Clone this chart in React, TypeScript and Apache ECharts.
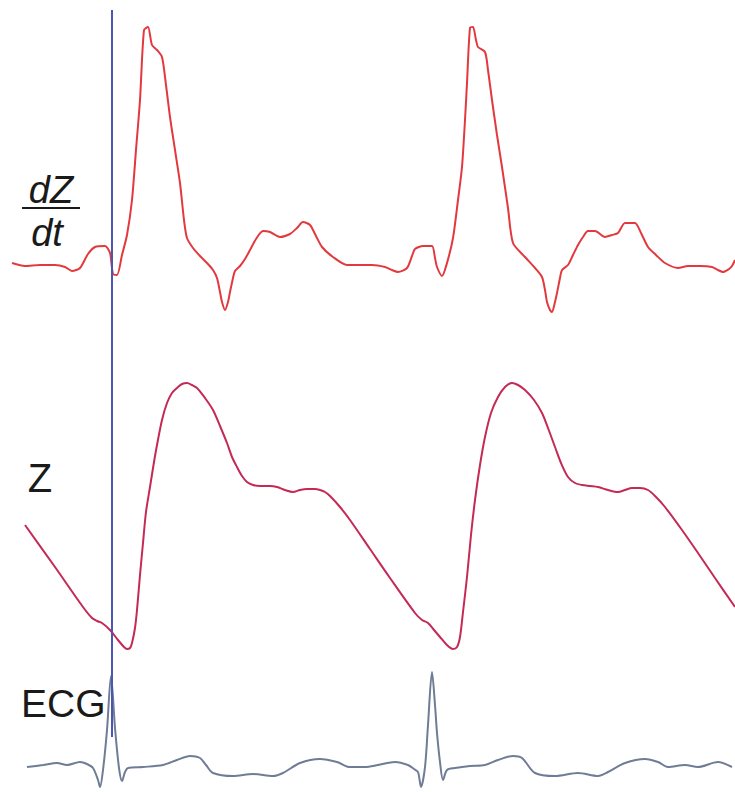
import React, { useEffect, useRef } from "react";
import * as echarts from "echarts";

// Signal traces, in picture coordinates (x: time position, y: vertical position, 0 at top)
const dzdtPoints: [number, number][] = [
  [12, 263], [25, 266], [40, 265], [55, 265], [65, 267], [72, 271], [80, 268], [88, 254], [95, 247], [105, 246],
  [110, 253], [113, 274], [117, 275], [122, 255], [127, 235], [132, 200], [136, 150], [140, 100], [144, 30], [148, 27],
  [152, 45], [157, 50], [162, 57], [166, 85], [170, 117], [175, 150], [180, 183], [184, 220], [187, 238], [193, 248],
  [200, 256], [207, 263], [213, 270], [217, 278], [220, 292], [222, 302], [225, 310], [228, 302], [230, 292], [233, 278],
  [235, 271], [240, 266], [245, 259], [250, 250], [256, 239], [263, 231], [270, 232], [280, 237], [290, 234], [297, 228],
  [303, 222], [310, 225], [316, 236], [322, 247], [333, 257], [347, 265], [360, 265], [372, 265], [385, 267], [392, 270],
  [398, 272], [407, 268], [412, 256], [415, 249], [423, 246], [432, 246], [435, 258], [437, 267], [442, 276], [447, 263],
  [453, 238], [458, 200], [462, 167], [465, 120], [467, 83], [470, 28], [473, 27], [476, 40], [478, 47], [485, 52],
  [488, 70], [492, 100], [497, 135], [502, 167], [508, 208], [513, 243], [525, 257], [535, 268], [542, 277], [545, 290],
  [547, 302], [550, 310], [552, 312], [555, 302], [557, 293], [560, 278], [562, 270], [568, 265], [573, 255], [578, 245],
  [583, 237], [588, 231], [595, 231], [605, 237], [612, 235], [618, 233], [625, 223], [635, 223], [641, 233], [648, 247],
  [656, 255], [665, 263], [678, 268], [688, 266], [700, 266], [712, 267], [718, 270], [723, 272], [729, 269], [732, 266], [735, 260]
];

const impedancePoints: [number, number][] = [
  [25, 525], [55, 567], [83, 607], [92, 618], [97, 621], [102, 623],
  [110, 630], [118, 640], [124, 647], [127, 649], [130, 648], [132, 643], [135, 628], [137, 610], [140, 575], [143, 543],
  [146, 512], [150, 487], [154, 462], [157, 445], [162, 420], [167, 403], [172, 393], [177, 388], [182, 384], [187, 383],
  [192, 385], [197, 388], [205, 398], [213, 410], [220, 426], [227, 443], [232, 457], [237, 467], [242, 476], [247, 482],
  [253, 485], [260, 486], [270, 486], [277, 487], [285, 490], [293, 492], [300, 490], [307, 489], [315, 489], [320, 490],
  [325, 492], [330, 496], [340, 507], [350, 520], [370, 549], [390, 578], [415, 613], [422, 620], [428, 623],
  [434, 630], [440, 637], [446, 644], [453, 649], [457, 647], [460, 637], [463, 612],
  [467, 577], [471, 535], [475, 500], [480, 465], [485, 437], [491, 413], [498, 397], [505, 387], [512, 383], [518, 385],
  [525, 390], [534, 400], [542, 413], [548, 428], [555, 447], [561, 463], [568, 477], [575, 483], [582, 485], [590, 486],
  [598, 487], [608, 490], [618, 492], [625, 490], [632, 488], [640, 488], [648, 490], [656, 497], [665, 507],
  [682, 530], [698, 553], [715, 578], [735, 607]
];

const ecgPoints: [number, number][] = [
  [27, 767], [43, 765], [57, 763], [67, 765], [80, 762], [87, 764],
  [93, 768], [98, 780], [100, 787], [103, 770], [107, 730], [111, 676], [115, 728], [119, 768], [122, 781], [125, 772],
  [128, 768], [143, 767], [163, 765], [177, 760], [190, 756],
  [200, 758], [206, 765], [213, 773], [233, 776], [253, 774], [273, 776],
  [283, 773], [300, 763], [320, 759], [337, 762], [350, 767],
  [365, 767], [378, 765], [395, 762], [408, 765], [414, 769], [418, 772],
  [421, 787], [425, 767], [428, 725], [432, 672], [435, 705], [437, 733], [440, 762], [443, 780], [447, 770], [455, 768],
  [470, 766], [485, 765], [498, 760], [513, 756], [522, 758],
  [535, 773], [555, 776], [578, 773], [598, 776], [608, 772],
  [625, 763], [645, 759], [658, 762], [668, 767], [685, 765],
  [698, 767], [718, 762], [732, 767]
];

const markerPoints: [number, number][] = [[112, 10], [112, 737]];

const labelTexts = { dz: "dZ", dt: "dt", z: "Z", ecg: "ECG" };

export default function App() {
  const ref = useRef<HTMLDivElement>(null);
  useEffect(() => {
    if (!ref.current) return;
    const chart = echarts.init(ref.current, null, { renderer: "svg" });
    const font = "'Liberation Sans', Arial, sans-serif";
    chart.setOption({
      animation: false,
      backgroundColor: "#ffffff",
      grid: { left: 0, right: 0, top: 0, bottom: 0 },
      xAxis: { type: "value", min: 0, max: 735, show: false },
      yAxis: { type: "value", min: 0, max: 792, inverse: true, show: false },
      series: [
        {
          type: "line", data: dzdtPoints, showSymbol: false, smooth: 0.25,
          lineStyle: { color: "#e2393e", width: 2 }
        },
        {
          type: "line", data: impedancePoints, showSymbol: false, smooth: 0.3,
          lineStyle: { color: "#c42a55", width: 2 }
        },
        {
          type: "line", data: ecgPoints, showSymbol: false, smooth: 0.3,
          lineStyle: { color: "#6f7c95", width: 2 }
        },
        {
          type: "line", data: markerPoints, showSymbol: false,
          lineStyle: { color: "#4a56b0", width: 2 }
        }
      ],
      graphic: [
        {
          type: "text", x: 51, y: 190,
          style: { text: labelTexts.dz, fontSize: 38, fontStyle: "italic", fontFamily: font, fill: "#1a1a1a", align: "center", verticalAlign: "middle" }
        },
        {
          type: "line", shape: { x1: 22, y1: 208, x2: 80, y2: 208 },
          style: { stroke: "#1a1a1a", lineWidth: 2 }
        },
        {
          type: "text", x: 47, y: 233,
          style: { text: labelTexts.dt, fontSize: 38, fontStyle: "italic", fontFamily: font, fill: "#1a1a1a", align: "center", verticalAlign: "middle" }
        },
        {
          type: "text", x: 40, y: 478,
          style: { text: labelTexts.z, fontSize: 40, fontFamily: font, fill: "#1a1a1a", align: "center", verticalAlign: "middle" }
        },
        {
          type: "text", x: 21, y: 703,
          style: { text: labelTexts.ecg, fontSize: 39, fontFamily: font, fill: "#1a1a1a", align: "left", verticalAlign: "middle" }
        }
      ]
    });
    return () => chart.dispose();
  }, []);
  return (
    <div
      ref={ref}
      style={{ position: "fixed", left: 0, top: 0, width: 735, height: 792 }}
    />
  );
}
